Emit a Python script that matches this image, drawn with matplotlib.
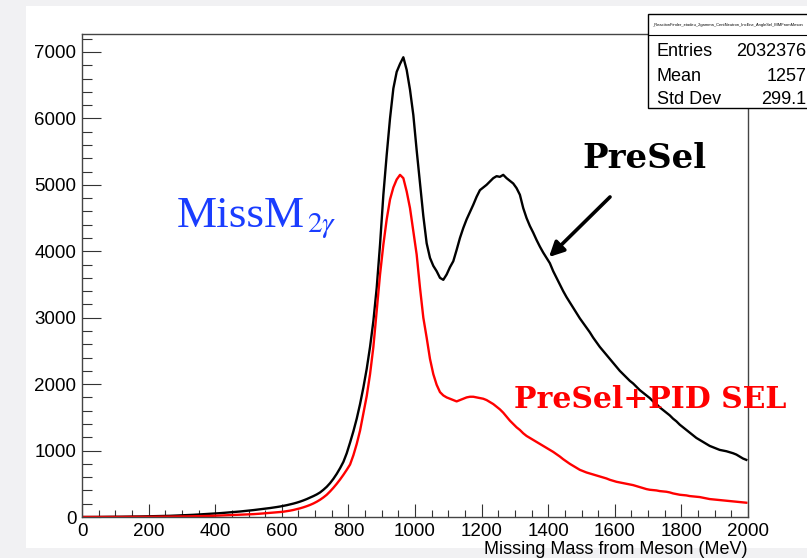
import numpy as np
import matplotlib
matplotlib.use("Agg")
import matplotlib.pyplot as plt
from matplotlib.patches import Rectangle, FancyArrowPatch

# histogram binning: 10 MeV bins from 0 to 2000 MeV
mass_lo, mass_hi, bin_width = 0, 2000, 10

# PreSel (black), counts per 10 MeV bin
presel = [
    0, 0, 0, 1, 1, 1, 2, 2, 3, 3,
    4, 4, 5, 5, 6, 7, 7, 8, 9, 10,
    11, 12, 13, 14, 15, 17, 18, 20, 22, 24,
    26, 28, 30, 33, 36, 39, 42, 45, 48, 52,
    55, 58, 62, 66, 70, 74, 78, 83, 88, 93,
    98, 104, 110, 116, 122, 128, 135, 142, 150, 158,
    168, 178, 190, 202, 216, 232, 250, 270, 292, 315,
    340, 370, 410, 455, 510, 575, 650, 735, 830, 960,
    1120, 1290, 1480, 1700, 1950, 2230, 2560, 2950, 3450, 4100,
    4850, 5450, 6000, 6450, 6700, 6820, 6920, 6730, 6430, 6050,
    5520, 5030, 4530, 4120, 3900, 3780, 3700, 3600, 3570, 3650,
    3760, 3850, 4020, 4200, 4350, 4480, 4590, 4700, 4820, 4920,
    4960, 5000, 5050, 5100, 5130, 5120, 5150, 5100, 5060, 5020,
    4950, 4850, 4650, 4500, 4380, 4280, 4170, 4070, 3980, 3900,
    3820, 3700, 3600, 3500, 3400, 3310, 3230, 3150, 3070, 2990,
    2920, 2850, 2780, 2700, 2630, 2560, 2500, 2440, 2380, 2320,
    2260, 2200, 2150, 2100, 2050, 2010, 1960, 1910, 1870, 1830,
    1790, 1740, 1700, 1650, 1610, 1570, 1530, 1480, 1440, 1390,
    1350, 1310, 1270, 1230, 1190, 1160, 1130, 1100, 1070, 1050,
    1030, 1010, 1000, 990, 975, 960, 940, 910, 880, 860,
]

# PreSel+PID SEL (red), counts per 10 MeV bin
presel_pid = [
    0, 0, 0, 0, 0, 0, 0, 0, 1, 1,
    1, 1, 1, 2, 2, 2, 2, 3, 3, 3,
    3, 4, 4, 5, 5, 6, 6, 7, 7, 8,
    8, 9, 10, 11, 12, 13, 14, 15, 17, 18,
    20, 22, 24, 26, 28, 30, 32, 34, 36, 38,
    40, 43, 46, 50, 54, 58, 62, 66, 70, 75,
    80, 88, 96, 106, 118, 131, 146, 163, 182, 204,
    230, 260, 295, 335, 385, 440, 500, 565, 635, 710,
    790, 930, 1100, 1300, 1560, 1820, 2150, 2560, 3100, 3650,
    4100, 4480, 4780, 4960, 5080, 5150, 5100, 4900, 4650, 4300,
    3950, 3450, 3000, 2700, 2380, 2150, 1990, 1880, 1830, 1800,
    1780, 1760, 1740, 1760, 1780, 1800, 1810, 1810, 1800, 1790,
    1780, 1760, 1730, 1700, 1660, 1620, 1570, 1510, 1450, 1400,
    1350, 1310, 1260, 1220, 1190, 1160, 1130, 1100, 1070, 1040,
    1010, 980, 945, 910, 870, 835, 800, 770, 740, 710,
    690, 670, 655, 640, 625, 610, 595, 580, 560, 545,
    530, 520, 510, 500, 490, 480, 465, 450, 435, 420,
    410, 405, 400, 390, 385, 380, 370, 355, 345, 335,
    330, 325, 315, 310, 305, 300, 290, 280, 270, 265,
    260, 255, 250, 245, 240, 235, 230, 225, 220, 215,
]

stats_title = "_ReactionFinder_etadeu_2gamma_CentNeutron_IncEne_AngleSel_MMFromMeson"
stats_rows = [("Entries", "2032376"), ("Mean", "1257"), ("Std Dev", "299.1")]

W, H = 807, 558
plt.rcParams["mathtext.fontset"] = "stix"


def fx(px):
    return px / W


def fy(py):
    return 1 - py / H


fig = plt.figure(figsize=(W / 100, H / 100), dpi=100, facecolor="#f1f1f3")
# white canvas area of the screenshot
fig.patches.append(Rectangle((fx(26), fy(548)), 1 - fx(26), fy(6) - fy(548),
                             transform=fig.transFigure, facecolor="white",
                             edgecolor="none", zorder=-1))

ax = fig.add_axes([fx(82), fy(517), fx(748) - fx(82), fy(34) - fy(517)])
ax.set_zorder(1)
ax.set_facecolor("white")

centers = np.arange(mass_lo, mass_hi, bin_width) + bin_width / 2
ax.plot(centers, presel, color="black", lw=1.7)
ax.plot(centers, presel_pid, color="#ff0000", lw=1.7)

ax.set_xlim(0, 2000)
ax.set_ylim(0, 7270)
ax.set_xticks(np.arange(0, 2001, 200))
ax.set_xticks(np.arange(0, 2001, 50), minor=True)
ax.set_yticks(np.arange(0, 7001, 1000))
ax.set_yticks(np.arange(0, 7201, 200), minor=True)

tick_font = {"family": "Liberation Sans", "size": 13.5}
ax.set_xticklabels([str(v) for v in range(0, 2001, 200)], fontdict=tick_font)
ax.set_yticklabels([str(v) for v in range(0, 7001, 1000)], fontdict=tick_font)
ax.tick_params(axis="y", which="major", direction="in", length=14, width=0.8,
               color="#333333", pad=4)
ax.tick_params(axis="y", which="minor", direction="in", length=7, width=0.8,
               color="#333333")
ax.tick_params(axis="x", which="major", direction="in", length=9.5, width=0.8,
               color="#333333", pad=4)
ax.tick_params(axis="x", which="minor", direction="in", length=5, width=0.8,
               color="#333333")
for s in ax.spines.values():
    s.set_color("#444444")
    s.set_linewidth(1.0)

fig.text(fx(748), fy(554), "Missing Mass from Meson (MeV)", ha="right",
         va="baseline", family="Liberation Sans", fontsize=13)

# annotations
fig.text(fx(177), fy(227), "MissM", color="#1a3dff", family="Liberation Serif",
         fontsize=32.5, va="baseline", ha="left", zorder=3)
fig.text(fx(307), fy(232), r"$2\gamma$", color="#1a3dff", fontsize=21,
         va="baseline", ha="left", zorder=3)
fig.text(fx(582), fy(168), "PreSel", color="black", family="DejaVu Serif",
         weight="bold", fontsize=24.5, va="baseline", ha="left", zorder=3)
fig.text(fx(514), fy(408), "PreSel+PID SEL", color="#ff0000",
         family="DejaVu Serif", weight="bold", fontsize=21.5, va="baseline",
         ha="left", zorder=3)
fig.add_artist(FancyArrowPatch((fx(612), fy(195)), (fx(547), fy(259)),
                               transform=fig.transFigure, arrowstyle="-|>",
                               mutation_scale=22, lw=2.6, color="black",
                               zorder=3))

# stats box
fig.patches.append(Rectangle((fx(648), fy(108)), fx(830) - fx(648), fy(14) - fy(108),
                             transform=fig.transFigure, facecolor="white",
                             edgecolor="black", lw=1.0, zorder=5))
fig.add_artist(plt.Line2D([fx(648), 1], [fy(35), fy(35)], color="black",
                          lw=0.8, transform=fig.transFigure, zorder=6))
fig.text(fx(727), fy(25), stats_title, fontsize=2.9, ha="center", va="center",
         family="Liberation Sans", zorder=6)
for i, (lab, val) in enumerate(stats_rows):
    yb = [56, 81, 104][i]
    fig.text(fx(657), fy(yb), lab, fontsize=13, family="Liberation Sans",
             va="baseline", ha="left", zorder=6)
    fig.text(fx(806), fy(yb), val, fontsize=13, family="Liberation Sans",
             va="baseline", ha="right", zorder=6)

fig.savefig("out.png", dpi=100, facecolor=fig.get_facecolor())
